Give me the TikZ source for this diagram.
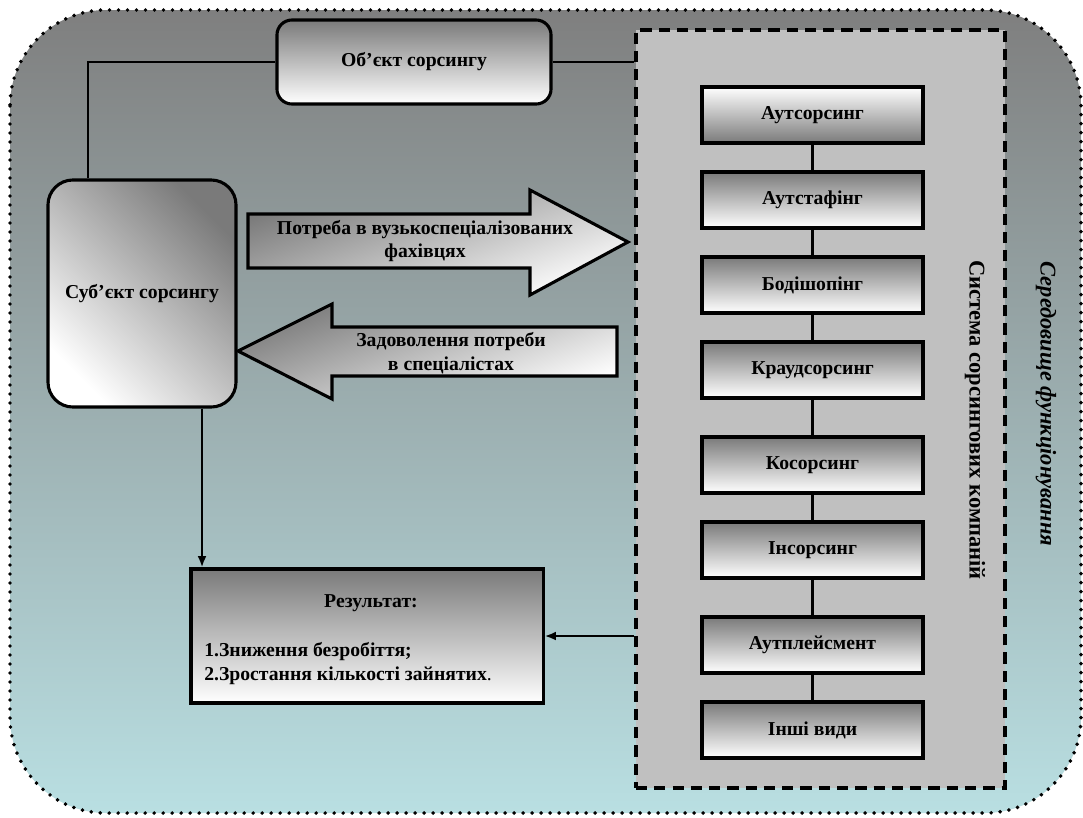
\documentclass[tikz,border=0pt]{standalone}
\usepackage{fontspec}
\setmainfont{Liberation Serif}
\usetikzlibrary{arrows.meta,calc}
\definecolor{envtop}{HTML}{7F7F7F}
\definecolor{envbot}{HTML}{B9DFE2}
\definecolor{sysgrey}{HTML}{C0C0C0}
\definecolor{shadegrey}{HTML}{7A7A7A}

\begin{document}
\begin{tikzpicture}[x=0.025cm,y=-0.025cm,
  font=\fontsize{14}{17}\selectfont\bfseries,
  kind/.style={draw,line width=2.2pt,minimum width=5.525cm,minimum height=1.4cm,
               top color=shadegrey,bottom color=white},
  link/.style={line width=1.8pt},
  tip/.style={-{Latex[length=2.8mm,width=2.2mm]}}]
  \useasboundingbox (0,0) rectangle (1083,817);

  % environment of functioning
  \shade[top color=envtop,bottom color=envbot,draw,line width=2.8pt,line cap=round,
         dash pattern=on 0pt off 6.4pt,rounded corners=2.4cm]
       (10,10) rectangle (1081,813);
  \node[rotate=-90,font=\fontsize{16}{19}\selectfont\bfseries\itshape] (envtitle)
       at (1046,404) {Середовище функціонування};

  % system of sourcing companies
  \node[draw,fill=sysgrey,line width=2.4pt,dash pattern=on 8pt off 5pt,
        minimum width=9.225cm,minimum height=18.95cm] (sys) at (820.5,409) {};
  \node[rotate=-90,font=\fontsize{16}{19}\selectfont\bfseries] (systitle)
       at (975,420) {Система сорсингових компаній};

  \node[kind,top color=white,bottom color=shadegrey] (k1) at (812.5,115) {Аутсорсинг};
  \node[kind] (k2) at (812.5,200) {Аутстафінг};
  \node[kind] (k3) at (812.5,285) {Бодішопінг};
  \node[kind] (k4) at (812.5,370) {Краудсорсинг};
  \node[kind] (k5) at (812.5,465) {Косорсинг};
  \node[kind] (k6) at (812.5,550) {Інсорсинг};
  \node[kind] (k7) at (812.5,645) {Аутплейсмент};
  \node[kind] (k8) at (812.5,730) {Інші види};
  \foreach \a/\b in {k1/k2,k2/k3,k3/k4,k4/k5,k5/k6,k6/k7,k7/k8}
    \draw[link] (\a.south) -- (\b.north);

  % object and subject
  \node[draw,line width=2.2pt,rounded corners=0.375cm,top color=shadegrey,bottom color=white,
        minimum width=6.85cm,minimum height=2.1cm] (obj) at (414,62) {Об’єкт сорсингу};
  \node[draw,line width=2.2pt,rounded corners=0.625cm,top color=shadegrey,bottom color=white,
        shading angle=-45,minimum width=4.7cm,minimum height=5.675cm] (subj) at (142,293.5)
       {Суб’єкт сорсингу};
  \draw[link] (obj.west) -| ([xshift=-1.35cm]subj.north);
  \draw[link] (obj.east) -- (obj.east -| sys.west);

  % need and its satisfaction
  \shade[draw,line width=2.2pt,top color=shadegrey,bottom color=white,shading angle=20]
       (248,214) -- (530,214) -- (530,190) -- (628,242) -- (530,295) -- (530,268)
       -- (248,268) -- cycle;
  \node[align=center] (need) at (425,241)
       {Потреба в вузькоспеціалізованих\\фахівцях};
  \shade[draw,line width=2.2pt,top color=shadegrey,bottom color=white,shading angle=20]
       (238,351) -- (332,304) -- (332,327) -- (617,327) -- (617,376) -- (332,376)
       -- (332,399) -- cycle;
  \node[align=center] (supply) at (451,353) {Задоволення потреби\\в спеціалістах};

  % result
  \node[draw,line width=2.2pt,top color=shadegrey,bottom color=white,
        minimum width=8.8cm,minimum height=3.35cm] (res) at (367,636) {};
  \node (restitle) at (371,603) {Результат:};
  \node[anchor=north west,align=left,inner sep=0] (reslist) at (204,642)
       {1.Зниження безробіття;\\2.Зростання кількості зайнятих{\mdseries.}};
  \draw[link,tip] ([xshift=1.5cm]subj.south) -- ([xshift=1.5cm]subj.south |- res.north);
  \draw[link,tip] (sys.west |- res.east) -- (res.east);
\end{tikzpicture}
\end{document}
